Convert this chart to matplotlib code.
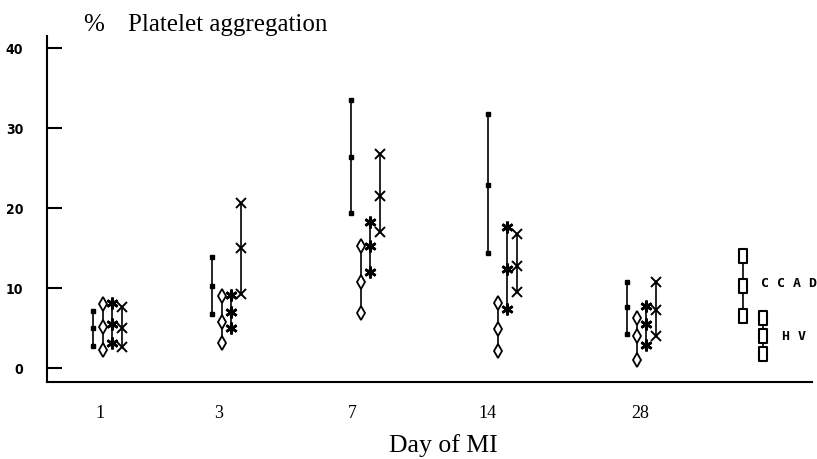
import numpy as np
import matplotlib.pyplot as plt
from matplotlib.path import Path

# ---------------------------------------------------------------
#  Data: % platelet aggregation, mean and mean +/- SD per day of MI
# ---------------------------------------------------------------
days = ['1', '3', '7', '14', '28']

dot_low = [2.7, 6.7, 19.4, 14.4, 4.3]
dot_mean = [5.0, 10.3, 26.4, 22.9, 7.6]
dot_high = [7.1, 13.9, 33.5, 31.8, 10.8]

diamond_low = [2.2, 3.1, 6.9, 2.1, 1.0]
diamond_mean = [5.1, 5.8, 10.8, 4.9, 4.0]
diamond_high = [8.0, 9.0, 15.3, 8.1, 6.3]

star_low = [3.1, 5.0, 12.0, 7.4, 2.9]
star_mean = [5.5, 7.0, 15.2, 12.4, 5.5]
star_high = [8.1, 9.1, 18.2, 17.6, 7.7]

cross_low = [2.6, 9.3, 17.0, 9.5, 4.0]
cross_mean = [5.0, 15.0, 21.5, 12.8, 7.3]
cross_high = [7.6, 20.6, 26.8, 16.7, 10.8]

# reference groups (low, mean, high)
ccad = [6.5, 10.2, 14.0]
hv = [1.8, 4.0, 6.3]

# ---------------------------------------------------------------
#  Layout (x axis in screen-like units, 0 .. 765)
# ---------------------------------------------------------------
TICK_X = [53, 172, 305, 440, 593]          # day label positions
GROUP_X = [46, 165, 304, 441, 580]         # first series in each group
SERIES_OFF = [0, 10, 19, 29]               # offsets of the 4 series
CCAD_X, HV_X = 696, 716

FIG_W, FIG_H = 817, 460
ax_left, ax_right = 47, 812
ax_top, ax_bot = 37, 383

rect = Path([(-0.6, -1), (0.6, -1), (0.6, 1), (-0.6, 1), (-0.6, -1)],
            [Path.MOVETO, Path.LINETO, Path.LINETO, Path.LINETO, Path.CLOSEPOLY])

fig = plt.figure(figsize=(FIG_W / 100, FIG_H / 100), dpi=100)
ax = fig.add_axes([ax_left / FIG_W, 1 - ax_bot / FIG_H,
                   (ax_right - ax_left) / FIG_W, (ax_bot - ax_top) / FIG_H])


def draw_series(x, low, mean, high, **mk):
    for xi, lo, me, hi in zip(x, low, mean, high):
        ax.plot([xi, xi], [lo, hi], color='black', lw=1.2, zorder=2)
        ax.plot([xi, xi, xi], [lo, me, hi], ls='none', color='black', zorder=3, **mk)


series = [
    (dot_low, dot_mean, dot_high,
     dict(marker='s', ms=3.5, mfc='black', mec='black')),
    (diamond_low, diamond_mean, diamond_high,
     dict(marker='d', ms=7.5, mfc='white', mec='black', mew=1.3)),
    (star_low, star_mean, star_high,
     dict(marker=(6, 2, 0), ms=8.5, mec='black', mew=1.9)),
    (cross_low, cross_mean, cross_high,
     dict(marker='x', ms=7, mec='black', mew=1.4)),
]
for k, (lo, me, hi, mk) in enumerate(series):
    xs = [g + SERIES_OFF[k] for g in GROUP_X]
    draw_series(xs, lo, me, hi, **mk)

# reference groups drawn as open rectangles
sq = dict(marker=rect, ms=9.5, mfc='white', mec='black', mew=1.5)
draw_series([CCAD_X], [ccad[0]], [ccad[1]], [ccad[2]], **sq)
draw_series([HV_X], [hv[0]], [hv[1]], [hv[2]], **sq)

mono = dict(family='DejaVu Sans Mono', weight='bold', fontsize=9.5)
ax.text(CCAD_X + 18, ccad[1] + 0.5, 'C C A D', ha='left', va='center',
        clip_on=False, **mono)
ax.text(HV_X + 19, hv[1], 'H V', ha='left', va='center', **mono)

# axes
ax.set_xlim(0, ax_right - ax_left)
ax.set_ylim((369 - ax_bot) / 8.0, (369 - ax_top) / 8.0)
for s in ('top', 'right'):
    ax.spines[s].set_visible(False)
for s in ('left', 'bottom'):
    ax.spines[s].set_linewidth(1.5)

ax.set_yticks([0, 10, 20, 30, 40])
ax.set_yticklabels(['0', '10', '20', '30', '40'],
                   family='DejaVu Sans', weight='bold', fontstretch='condensed',
                   fontsize=10)
ax.tick_params(axis='y', direction='in', length=11, width=1.5, pad=17)

ax.set_xticks(TICK_X)
ax.set_xticklabels(days, family='Liberation Serif', fontsize=13)
ax.tick_params(axis='x', length=0, pad=16)

fig.text(83 / FIG_W, 1 - 25 / FIG_H, '%', family='Liberation Serif',
         fontsize=18, ha='left', va='center')
fig.text(128 / FIG_W, 1 - 25 / FIG_H, 'Platelet aggregation',
         family='Liberation Serif', fontsize=18, ha='left', va='center')
fig.text(443 / FIG_W, 1 - 446 / FIG_H, 'Day of MI', family='Liberation Serif',
         fontsize=18.5, ha='center', va='center')

fig.savefig('out.png', dpi=100)
